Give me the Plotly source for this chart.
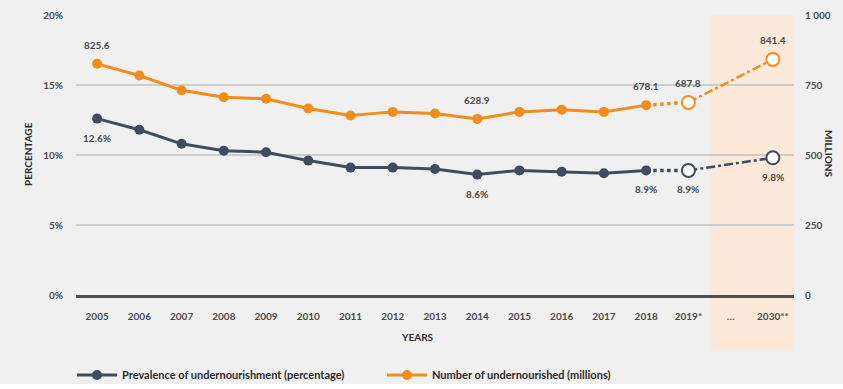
import plotly.graph_objects as go

# ---------------- data ----------------
categories = ["2005", "2006", "2007", "2008", "2009", "2010", "2011", "2012",
              "2013", "2014", "2015", "2016", "2017", "2018", "2019*", "…", "2030**"]
hist_years = ["2005", "2006", "2007", "2008", "2009", "2010", "2011", "2012",
              "2013", "2014", "2015", "2016", "2017", "2018"]
prev_hist = [12.6, 11.8, 10.8, 10.3, 10.2, 9.6, 9.1, 9.1, 9.0, 8.6, 8.9, 8.8, 8.7, 8.9]
num_hist = [825.6, 784, 731, 706, 701, 666, 641, 654, 648, 628.9, 654, 662, 654, 678.1]
near_years = ["2018", "2019*"]
prev_near = [8.9, 8.9]
num_near = [678.1, 687.8]
proj_years = ["2019*", "2030**"]
prev_proj = [8.9, 9.8]
num_proj = [687.8, 841.4]

left_ticks = [0, 5, 10, 15, 20]
left_ticktext = ["0%", "5%", "10%", "15%", "20%"]
right_ticks = [0, 250, 500, 750, 1000]
right_ticktext = ["0", "250", "500", "750", "1 000"]

num_labels = [("2005", 825.6, "825.6"), ("2014", 628.9, "628.9"), ("2018", 678.1, "678.1"),
              ("2019*", 687.8, "687.8"), ("2030**", 841.4, "841.4")]
prev_labels = [("2005", 12.6, "12.6%"), ("2014", 8.6, "8.6%"), ("2018", 8.9, "8.9%"),
               ("2019*", 8.9, "8.9%"), ("2030**", 9.8, "9.8%")]

# ---------------- style ----------------
ORANGE = "#F28C1A"
SLATE = "#3F4B5E"
TEXT = "#4A4A4A"
BG = "#F0F0F0"
FONT = "Lato, Roboto, sans-serif"

fig = go.Figure()

fig.add_trace(go.Scatter(x=hist_years, y=prev_hist, mode="lines+markers",
                         name="<b>Prevalence of undernourishment (percentage)</b>",
                         line=dict(color=SLATE, width=3), marker=dict(size=10, color=SLATE),
                         yaxis="y"))
fig.add_trace(go.Scatter(x=near_years, y=prev_near, mode="lines", showlegend=False,
                         line=dict(color=SLATE, width=3.5, dash="dot"), yaxis="y"))
fig.add_trace(go.Scatter(x=proj_years, y=prev_proj, mode="lines+markers", showlegend=False,
                         line=dict(color=SLATE, width=2.5, dash="dashdot"),
                         marker=dict(size=13, color="white", line=dict(color=SLATE, width=2)),
                         yaxis="y"))

fig.add_trace(go.Scatter(x=hist_years, y=num_hist, mode="lines+markers",
                         name="<b>Number of undernourished (millions)</b>",
                         line=dict(color=ORANGE, width=3), marker=dict(size=10, color=ORANGE),
                         yaxis="y2"))
fig.add_trace(go.Scatter(x=near_years, y=num_near, mode="lines", showlegend=False,
                         line=dict(color=ORANGE, width=3.5, dash="dot"), yaxis="y2"))
fig.add_trace(go.Scatter(x=proj_years, y=num_proj, mode="lines+markers", showlegend=False,
                         line=dict(color=ORANGE, width=2.5, dash="dashdot"),
                         marker=dict(size=13, color="white", line=dict(color=ORANGE, width=2)),
                         yaxis="y2"))

annotations = []
for cat, v, t in num_labels:
    annotations.append(dict(x=categories.index(cat), y=v, xref="x", yref="y2",
                            text="<b>%s</b>" % t, showarrow=False, yshift=19,
                            font=dict(size=10, color=TEXT, family=FONT)))
for cat, v, t in prev_labels:
    annotations.append(dict(x=categories.index(cat), y=v, xref="x", yref="y",
                            text="<b>%s</b>" % t, showarrow=False, yshift=-19,
                            font=dict(size=10, color=TEXT, family=FONT)))

L, R, T, B = 76, 49, 15, 94
W, H = 843, 389
pw, ph = W - L - R, H - T - B

def px(xp):
    return (xp - L) / pw

def py(yp):
    return (H - B - yp) / ph

annotations += [
    dict(x=px(20), y=py(154), xref="paper", yref="paper", text="<b>PERCENTAGE</b>",
         textangle=-90, showarrow=False, font=dict(size=10, color="#2a2a2a", family=FONT)),
    dict(x=px(837), y=py(154), xref="paper", yref="paper", text="<b>MILLIONS</b>",
         textangle=90, showarrow=False, font=dict(size=10, color="#2a2a2a", family=FONT)),
    dict(x=px(417), y=py(345), xref="paper", yref="paper", text="<b>YEARS</b>",
         showarrow=False, font=dict(size=10, color="#2a2a2a", family=FONT)),
]

fig.update_layout(
    width=W, height=H,
    margin=dict(l=L, r=R, t=T, b=B, autoexpand=False),
    paper_bgcolor=BG, plot_bgcolor=BG,
    font=dict(family=FONT, color=TEXT, size=10),
    xaxis=dict(type="category", categoryorder="array", categoryarray=categories,
               range=[-0.5, 16.5], showgrid=False, showline=True, linecolor="#505050",
               linewidth=3, ticks="", tickfont=dict(size=10, color=TEXT, weight="bold"),
               ticklabelstandoff=10, zeroline=False),
    yaxis=dict(range=[0, 20], tickvals=left_ticks, ticktext=left_ticktext,
               showgrid=True, gridcolor="#CDCDCD", gridwidth=2, zeroline=False,
               showline=False, ticks="", tickfont=dict(size=10, color=TEXT, weight="bold"),
               ticklabelstandoff=12),
    yaxis2=dict(range=[0, 1000], tickvals=right_ticks, ticktext=right_ticktext,
                overlaying="y", side="right", showgrid=False, zeroline=False,
                ticks="", tickfont=dict(size=10, color=TEXT, weight="bold"),
                ticklabelstandoff=10),
    shapes=[
        dict(type="rect", xref="x", yref="paper", x0=14.5, x1=16.5, y0=py(350), y1=1,
             fillcolor="#FCE9D9", line=dict(width=0), layer="below"),
        dict(type="rect", xref="paper", yref="paper", x0=px(0), x1=px(W),
             y0=py(389), y1=py(384), fillcolor="white", line=dict(width=0),
             layer="below"),
    ],
    annotations=annotations,
    showlegend=True,
    legend=dict(orientation="h", x=px(72), y=py(375), xanchor="left", yanchor="middle",
                bgcolor="rgba(0,0,0,0)", font=dict(size=11, color="#2a2a2a", family=FONT),
                itemwidth=40, entrywidth=255, entrywidthmode="pixels", traceorder="normal"),
)

fig.write_html("out.html")
